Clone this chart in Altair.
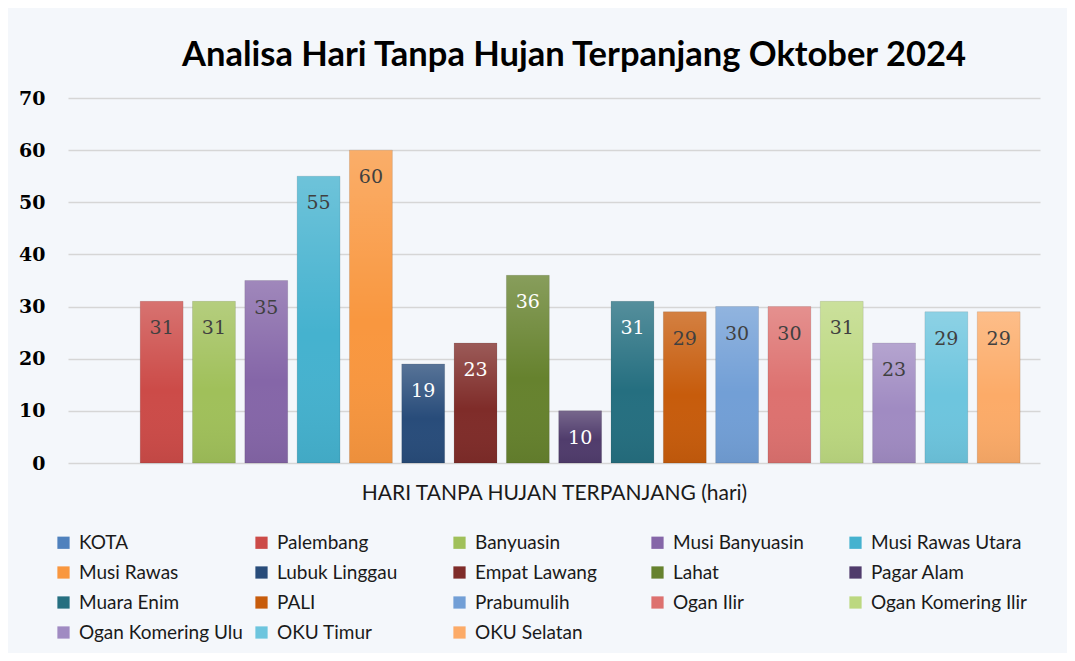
import altair as alt
import pandas as pd

categories = ["KOTA", "Palembang", "Banyuasin", "Musi Banyuasin", "Musi Rawas Utara",
              "Musi Rawas", "Lubuk Linggau", "Empat Lawang", "Lahat", "Pagar Alam",
              "Muara Enim", "PALI", "Prabumulih", "Ogan Ilir", "Ogan Komering Ilir",
              "Ogan Komering Ulu", "OKU Timur", "OKU Selatan"]
values = [None, 31, 31, 35, 55, 60, 19, 23, 36, 10, 31, 29, 30, 30, 31, 23, 29, 29]
colors = ["#4F81BD", "#CC4B48", "#A0C05A", "#8566A8", "#45B2CF",
          "#F9973F", "#284C7A", "#7F2C29", "#66822E", "#503C6C",
          "#256F80", "#C75C0C", "#729FD6", "#DD716F", "#BCD880",
          "#A08BC2", "#6DC5DE", "#FCAB68"]
label_colors = ["#404040", "#404040", "#404040", "#404040", "#404040",
                "#404040", "#FFFFFF", "#FFFFFF", "#FFFFFF", "#FFFFFF",
                "#FFFFFF", "#404040", "#404040", "#404040", "#404040",
                "#404040", "#404040", "#404040"]
y_ticks = [0, 10, 20, 30, 40, 50, 60, 70]

df = pd.DataFrame({"kab": categories, "val": values, "lc": label_colors})

x_enc = alt.X("kab:N", sort=categories,
              scale=alt.Scale(paddingInner=0.18, paddingOuter=0.38),
              axis=alt.Axis(labels=False, ticks=False, domain=False, grid=False,
                            title="HARI TANPA HUJAN TERPANJANG (hari)",
                            titleFont="Lato", titleFontSize=21, titleFontWeight="normal",
                            titleColor="#1a1a1a", titlePadding=19))
y_enc = alt.Y("val:Q", scale=alt.Scale(domain=[0, 70]),
              axis=alt.Axis(values=y_ticks, title=None, domain=False, ticks=False,
                            labelFont="DejaVu Serif", labelFontWeight="bold",
                            labelFontSize=19, labelColor="#000000", labelPadding=23,
                            gridColor="#D6D6D6", gridWidth=1.6))

base = alt.Chart(df)

bars = base.mark_bar(stroke="rgba(0,0,0,0.10)", strokeWidth=1).encode(
    x=x_enc, y=y_enc,
    color=alt.Color("kab:N", sort=categories,
                    scale=alt.Scale(domain=categories, range=colors),
                    legend=alt.Legend(title=None, orient="none", legendX=-14, legendY=435,
                                      direction="horizontal",
                                      columns=5, gridAlign="all", columnPadding=9,
                                      rowPadding=10, symbolType="square", symbolSize=150,
                                      symbolStrokeWidth=0, labelFont="Lato",
                                      labelFontSize=19, labelColor="#1a1a1a",
                                      symbolOffset=0, labelOffset=6, labelLimit=300))
)

shade = base.mark_bar(
    color=alt.Gradient(gradient="linear",
                       stops=[alt.GradientStop(color="rgba(255,255,255,0.22)", offset=0),
                              alt.GradientStop(color="rgba(255,255,255,0)", offset=0.55),
                              alt.GradientStop(color="rgba(0,0,0,0.05)", offset=1)],
                       x1=0, x2=0, y1=0, y2=1)
).encode(x=x_enc, y=y_enc)

labels = base.mark_text(font="DejaVu Serif", fontSize=19, baseline="middle", dy=27).encode(
    x=x_enc, y=y_enc, text=alt.Text("val:Q"), color=alt.Color("lc:N", scale=None)
)

chart = alt.layer(bars, shade, labels).properties(
    width=972, height=365,
    title=alt.TitleParams("Analisa Hari Tanpa Hujan Terpanjang Oktober 2024",
                          font="Lato", fontSize=34.5, fontWeight="bold", color="#000000",
                          anchor="middle", dx=20, offset=16),
    background="#F4F7FB",
    padding={"left": 60, "top": 90, "right": 27, "bottom": 190},
    autosize=alt.AutoSizeParams(type="none"),
).configure_view(stroke=None)

chart.save("out.html", embed_options={"renderer": "svg", "actions": False})
